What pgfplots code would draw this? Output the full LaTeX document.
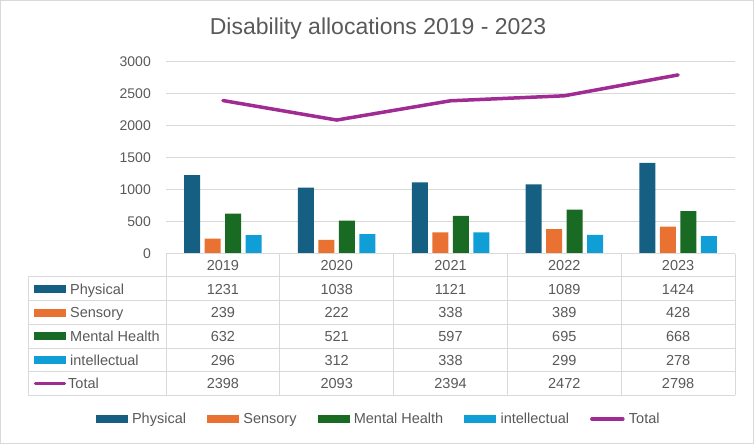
\documentclass[border=0pt]{standalone}
\usepackage{pgfplots}
\usepackage{pgfplotstable}
\pgfplotsset{compat=1.18}
\usepackage{fontspec}
\setmainfont{Liberation Sans}
\definecolor{cphys}{HTML}{156082}
\definecolor{csens}{HTML}{E97132}
\definecolor{cment}{HTML}{196B24}
\definecolor{cint}{HTML}{0F9ED5}
\definecolor{ctot}{HTML}{A02B93}
\definecolor{ctxt}{HTML}{595959}
\definecolor{cgrid}{HTML}{D9D9D9}
\newcommand\tf{\fontsize{14.5}{16}\selectfont}
\pgfplotsset{
  barleg/.style={legend image code/.code={\fill[##1,draw=none] (0pt,-4pt) rectangle (32pt,4pt);}},
  lineleg/.style={legend image code/.code={\draw[##1,line width=3.5pt,line cap=round] (1.5pt,0pt) -- (32.5pt,0pt);}},
}
\pgfplotstableread{
year phys sens ment intel tot
0 1231 239 632 296 2398
1 1038 222 521 312 2093
2 1121 338 597 338 2394
3 1089 389 695 299 2472
4 1424 428 668 278 2798
}\data
\begin{document}
\begin{tikzpicture}[x=1pt,y=1pt]
\path[use as bounding box] (0,0) rectangle (754,444);
\draw[cgrid, line width=1pt] (0.5,0.5) rectangle (753.5,443.5);
\node[anchor=base, text=ctxt, font=\fontsize{23}{26}\selectfont, inner sep=0pt] at (378,409) {Disability allocations 2019 - 2023};
\begin{axis}[
  at={(166pt,190pt)}, anchor=south west,
  scale only axis, width=569pt, height=192pt,
  xmin=-0.5, xmax=4.5, ymin=0, ymax=3000,
  xtick=\empty, ytick={0,500,...,3000},
  ymajorgrids, grid style={cgrid, line width=1pt},
  axis line style={draw=none}, major tick length=0pt,
  /pgf/number format/assume math mode=true,
  /pgf/number format/1000 sep={},
  yticklabel style={font=\fontsize{14}{16}\selectfont, text=ctxt, inner sep=0pt, xshift=-15pt},
  ybar=4.5pt, bar width=16pt,
  clip=false,
  legend columns=5,
  legend style={at={(0.372,-0.859)}, anchor=center, draw=none, fill=none, font=\tf, text=ctxt, inner sep=0pt,
    nodes={inner xsep=0pt},
    /tikz/every odd column/.append style={column sep=4.3pt},
    /tikz/every even column/.append style={column sep=21pt}},
  legend cell align=left,
]
\addplot[fill=cphys, draw=none, barleg] table[x=year,y=phys]{\data};
\addlegendentry{Physical}
\addplot[fill=csens, draw=none, barleg] table[x=year,y=sens]{\data};
\addlegendentry{Sensory}
\addplot[fill=cment, draw=none, barleg] table[x=year,y=ment]{\data};
\addlegendentry{Mental Health}
\addplot[fill=cint, draw=none, barleg] table[x=year,y=intel]{\data};
\addlegendentry{intellectual}
\addplot[sharp plot, color=ctot, line width=3.5pt, line cap=round, line join=round, mark=none, lineleg] table[x=year,y=tot]{\data};
\addlegendentry{Total}
\end{axis}
% data table
\begin{scope}[cgrid, line width=1pt]
\foreach \yy in {167,143.3,119.6,95.9,72.2,48.5} \draw (28,\yy) -- (735,\yy);
\draw (166,190) -- (735,190);
\draw (28,167) -- (28,48.5);
\foreach \k in {0,...,5} \draw ({166+113.8*\k},190) -- ({166+113.8*\k},48.5);
\end{scope}
\foreach \y [count=\k from 0] in {2019,2020,2021,2022,2023}
  \node[anchor=base, text=ctxt, font=\tf, inner sep=0pt] at ({166+113.8*(\k+0.5)},173.3) {\y};
\foreach \c/\yc/\lab/\a/\b/\cc/\d/\e in {
  cphys/155.1/Physical/1231/1038/1121/1089/1424,
  csens/131.4/Sensory/239/222/338/389/428,
  cment/107.7/Mental Health/632/521/597/695/668,
  cint/84.0/intellectual/296/312/338/299/278}{
  \fill[\c] (34,\yc-4) rectangle (66,\yc+4);
  \node[anchor=base west, text=ctxt, font=\tf, inner sep=0pt] at (70,\yc-5.2) {\lab};
  \foreach \v [count=\k from 0] in {\a,\b,\cc,\d,\e}
    \node[anchor=base, text=ctxt, font=\tf, inner sep=0pt] at ({166+113.8*(\k+0.5)},\yc-5.2) {\v};
}
\draw[ctot, line width=3.5pt, line cap=round] (35.5,60.3) -- (64.5,60.3);
\node[anchor=base west, text=ctxt, font=\tf, inner sep=0pt] at (68,55.1) {Total};
\foreach \v [count=\k from 0] in {2398,2093,2394,2472,2798}
  \node[anchor=base, text=ctxt, font=\tf, inner sep=0pt] at ({166+113.8*(\k+0.5)},55.1) {\v};
\end{tikzpicture}
\end{document}
